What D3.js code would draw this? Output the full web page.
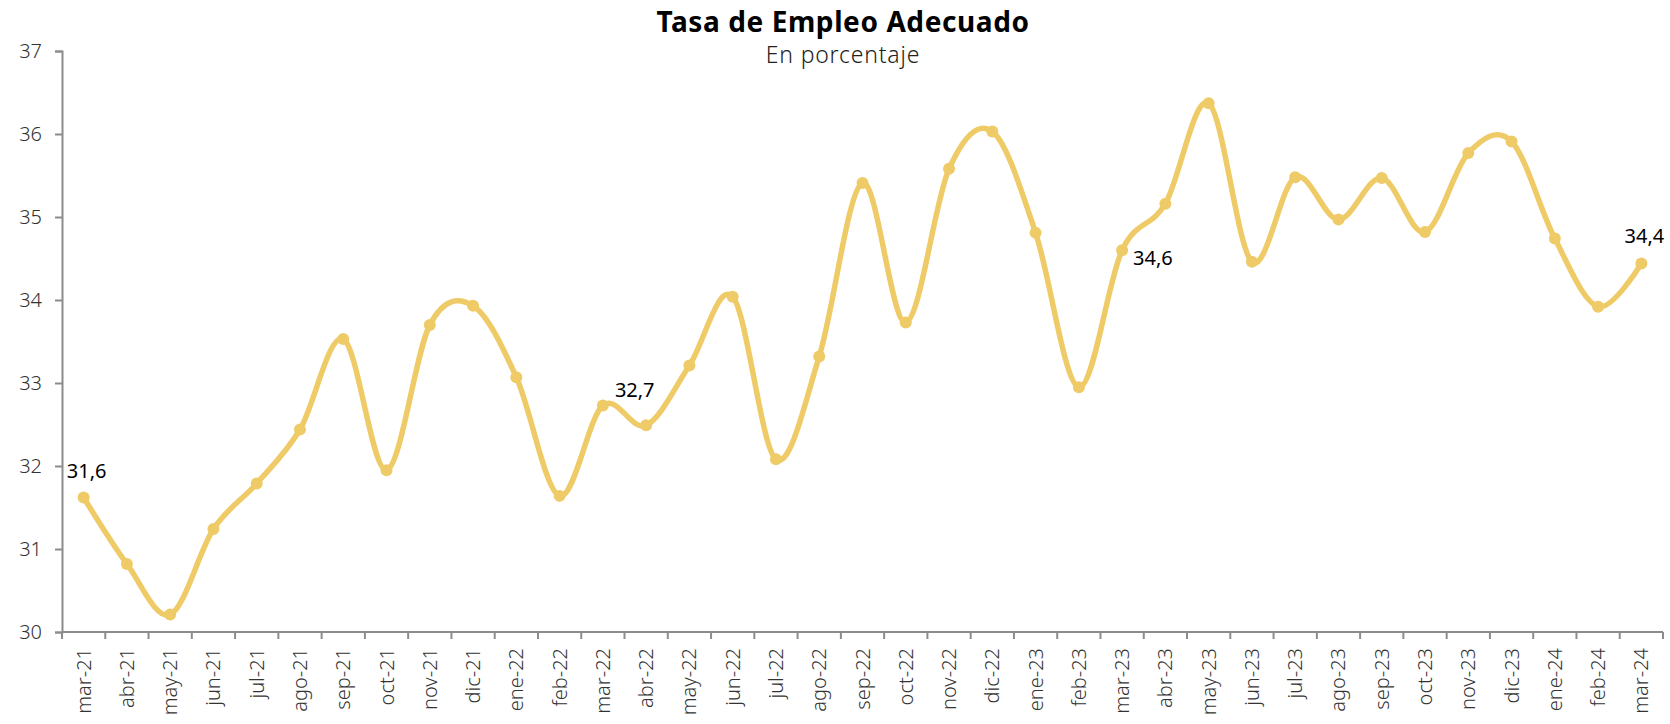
<!DOCTYPE html>
<html>
<head>
<meta charset="utf-8">
<script src="https://cdn.jsdelivr.net/npm/d3@7"></script>
<style>
  body { margin: 0; background: #fff; }
  text { font-family: "Noto Sans", Lato, sans-serif; }
</style>
</head>
<body>
<svg id="vis" width="1670" height="724"></svg>
<script>
const months = ["mar-21","abr-21","may-21","jun-21","jul-21","ago-21","sep-21","oct-21","nov-21","dic-21",
  "ene-22","feb-22","mar-22","abr-22","may-22","jun-22","jul-22","ago-22","sep-22","oct-22","nov-22","dic-22",
  "ene-23","feb-23","mar-23","abr-23","may-23","jun-23","jul-23","ago-23","sep-23","oct-23","nov-23","dic-23",
  "ene-24","feb-24","mar-24"]

const tasa = [31.62, 30.82, 30.21, 31.24, 31.79, 32.44, 33.53, 31.95, 33.70, 33.93,
  33.07, 31.64, 32.73, 32.49, 33.21, 34.04, 32.08, 33.32, 35.41, 33.73, 35.58, 36.03,
  34.81, 32.95, 34.60, 35.16, 36.37, 34.46, 35.48, 34.97, 35.47, 34.82, 35.77, 35.91,
  34.74, 33.92, 34.44]

const yTicks = [30, 31, 32, 33, 34, 35, 36, 37]

// which points get a data label, and where it sits
const labelled = [
  { month: "mar-21", pos: "above" },
  { month: "mar-22", pos: "aboveRight" },
  { month: "mar-23", pos: "right" },
  { month: "mar-24", pos: "above" }
]

const data = months.map((m, i) => ({ month: m, value: tasa[i] }))

const svg = d3.select("#vis")
const mLeft = 62, mRight = 1663, mTop = 51, mBottom = 632
const lineColor = "#efcb68"
const axisColor = "#8c8c8c"

const x = d3.scaleBand().domain(months).range([mLeft, mRight])
const y = d3.scaleLinear().domain([30, 37]).range([mBottom, mTop])
const cx = d => x(d.month) + x.bandwidth() / 2

// title
svg.append("text")
  .attr("x", 843).attr("y", 32)
  .attr("text-anchor", "middle")
  .style("font-size", "28px").style("font-weight", "bold")
  .style("letter-spacing", "0.6px")
  .attr("fill", "#000")
  .text("Tasa de Empleo Adecuado")

svg.append("text")
  .attr("x", 843).attr("y", 63)
  .attr("text-anchor", "middle")
  .style("font-size", "23px").style("font-weight", "300")
  .style("letter-spacing", "0.8px")
  .attr("fill", "#222")
  .text("En porcentaje")

// y axis
const yAxis = svg.append("g")
  .attr("transform", `translate(${mLeft},0)`)
  .call(d3.axisLeft(y).tickValues(yTicks).tickFormat(d3.format("d")).tickSize(7).tickPadding(13))
yAxis.select(".domain").attr("stroke", axisColor).attr("stroke-width", 2)
yAxis.selectAll(".tick line").attr("stroke", axisColor).attr("stroke-width", 2)
yAxis.selectAll(".tick text")
  .attr("fill", "#333").style("font-size", "20px").style("font-weight", "300")

// x axis, ticks sit on the band edges
const xAxis = svg.append("g")
  .attr("transform", `translate(0,${mBottom})`)
xAxis.append("line")
  .attr("x1", mLeft).attr("x2", mRight)
  .attr("stroke", axisColor).attr("stroke-width", 2)
xAxis.selectAll("line.tk")
  .data(months.concat(["end"]))
  .join("line")
  .attr("class", "tk")
  .attr("x1", (d, i) => i < months.length ? x(d) : mRight)
  .attr("x2", (d, i) => i < months.length ? x(d) : mRight)
  .attr("y1", 0).attr("y2", 7)
  .attr("stroke", axisColor).attr("stroke-width", 2)
xAxis.selectAll("text")
  .data(months)
  .join("text")
  .attr("transform", d => `translate(${x(d) + x.bandwidth() / 2 + 7},16) rotate(-90)`)
  .attr("text-anchor", "end")
  .attr("fill", "#333")
  .style("font-size", "20px").style("font-weight", "300")
  .text(d => d)

// line
const line = d3.line()
  .x(cx)
  .y(d => y(d.value))
  .curve(d3.curveCardinal.tension(0))

svg.append("path")
  .datum(data)
  .attr("fill", "none")
  .attr("stroke", lineColor)
  .attr("stroke-width", 5.5)
  .attr("stroke-linejoin", "round")
  .attr("d", line)

svg.selectAll("circle")
  .data(data)
  .join("circle")
  .attr("cx", cx)
  .attr("cy", d => y(d.value))
  .attr("r", 6)
  .attr("fill", lineColor)

// data labels
const fmt = v => d3.format(".1f")(v).replace(".", ",")
labelled.forEach(l => {
  const d = data.find(e => e.month === l.month)
  let tx = cx(d), ty = y(d.value), anchor = "middle"
  if (l.pos === "above") { ty -= 20; tx += 3 }
  if (l.pos === "aboveRight") { tx += 12; ty -= 8; anchor = "start" }
  if (l.pos === "right") { tx += 11; ty += 15; anchor = "start" }
  svg.append("text")
    .attr("x", tx).attr("y", ty)
    .attr("text-anchor", anchor)
    .attr("fill", "#000")
    .style("font-size", "20px")
    .text(fmt(d.value))
})
</script>
</body>
</html>
